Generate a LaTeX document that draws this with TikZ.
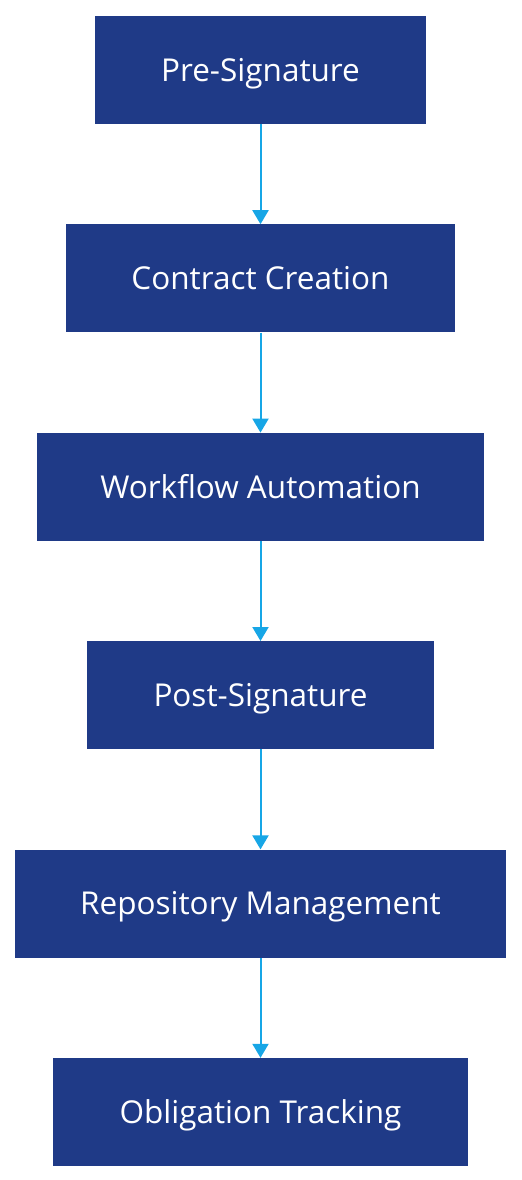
\documentclass[tikz,border=0pt]{standalone}
\usepackage{fontspec}
\setmainfont{Open Sans}
\usetikzlibrary{positioning,arrows.meta}
\definecolor{boxblue}{HTML}{1F3A87}
\definecolor{flowcyan}{HTML}{17A6E6}
\begin{document}
\begin{tikzpicture}[x=1bp,y=-1bp,
	stage/.style={fill=boxblue, text=white, minimum height=108bp, inner sep=0pt,
		text height=22.5bp, text depth=0pt, font=\fontsize{31.5bp}{36bp}\selectfont},
	flow/.style={draw=flowcyan, line width=2bp, -{Triangle[length=14bp,width=16bp]}}]
	\useasboundingbox (0,0) rectangle (522,1180);
	
	\node[stage, minimum width=331bp] (pre) at (260.5,70) {Pre-Signature};
	\node[stage, minimum width=389bp, below=100bp of pre] (create) {Contract Creation};
	\node[stage, minimum width=447bp, below=100bp of create] (workflow) {Workflow Automation};
	\node[stage, minimum width=347bp, below=100bp of workflow] (post) {Post-Signature};
	\node[stage, minimum width=491bp, below=100bp of post] (repo) {Repository Management};
	\node[stage, minimum width=415bp, below=100bp of repo] (oblig) {Obligation Tracking};
	
	\draw[flow] (pre) -- (create);
	\draw[flow] (create) -- (workflow);
	\draw[flow] (workflow) -- (post);
	\draw[flow] (post) -- (repo);
	\draw[flow] (repo) -- (oblig);
\end{tikzpicture}
\end{document}
